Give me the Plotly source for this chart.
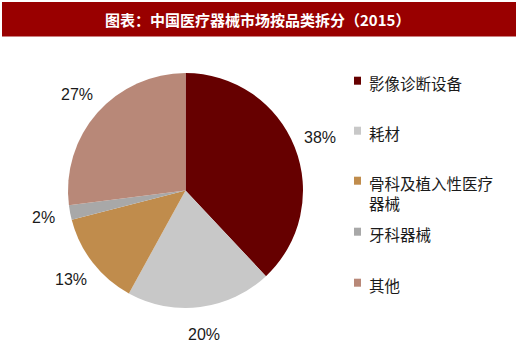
import math
import plotly.graph_objects as go

title_text = "图表：中国医疗器械市场按品类拆分（2015）"
categories = ["影像诊断设备", "耗材", "骨科及植入性医疗<br>器械", "牙科器械", "其他"]
values = [38, 20, 13, 2, 27]
colors = ["#660000", "#C8C8C8", "#C08C4C", "#A8A8A8", "#B88878"]

W, H = 520, 352
cx, cy, R = 185.5, 190.5, 117.5

fig = go.Figure()
fig.add_trace(go.Pie(
    labels=categories, values=values, sort=False, direction="clockwise",
    rotation=0, marker=dict(colors=colors, line=dict(width=0)),
    textinfo="none", hoverinfo="skip", showlegend=False,
    domain=dict(x=[(cx - R) / W, (cx + R) / W], y=[1 - (cy + R) / H, 1 - (cy - R) / H]),
))

annotations = []
shapes = []
# percentage labels outside the pie
total = sum(values)
cum = 0
label_r = 145
for v in values:
    mid = 90 - (cum + v / 2) / total * 360
    cum += v
    lx = cx + label_r * math.cos(math.radians(mid))
    ly = cy - label_r * math.sin(math.radians(mid))
    annotations.append(dict(
        x=lx / W, y=1 - ly / H, xref="paper", yref="paper",
        text=f"{v}%", showarrow=False, xanchor="center", yanchor="middle",
        font=dict(family="Liberation Sans, Arial", size=16, color="#1A1A1A"),
    ))

# custom legend
leg_y = [80.7, 130.7, 180.7, 231.7, 282.7]
for cat, col, y in zip(categories, colors, leg_y):
    shapes.append(dict(type="rect", xref="paper", yref="paper",
                       x0=354 / W, x1=361 / W, y0=1 - (y + 4) / H, y1=1 - (y - 4) / H,
                       fillcolor=col, line=dict(width=0)))
    annotations.append(dict(
        x=367 / W, y=1 - (y - 11) / H, xref="paper", yref="paper",
        text=cat, showarrow=False, xanchor="left", yanchor="top", align="left",
        font=dict(family="Noto Sans CJK SC", size=15.5, color="#1A1A1A"),
    ))

# title bar
shapes.append(dict(type="rect", xref="paper", yref="paper",
                   x0=2 / W, x1=516 / W, y0=1 - 36.5 / H, y1=1 - 2 / H,
                   fillcolor="#990000", line=dict(width=0), layer="below"))
annotations.append(dict(
    x=257 / W, y=1 - 19.5 / H, xref="paper", yref="paper",
    text=f"<b>{title_text}</b>", showarrow=False, xanchor="center", yanchor="middle",
    font=dict(family="Noto Sans CJK SC", size=15, color="#FFFFFF"),
))

fig.update_layout(
    width=W, height=H, margin=dict(l=0, r=0, t=0, b=0),
    paper_bgcolor="#FFFFFF", plot_bgcolor="#FFFFFF",
    shapes=shapes, annotations=annotations, showlegend=False,
)
fig.write_html("out.html")
